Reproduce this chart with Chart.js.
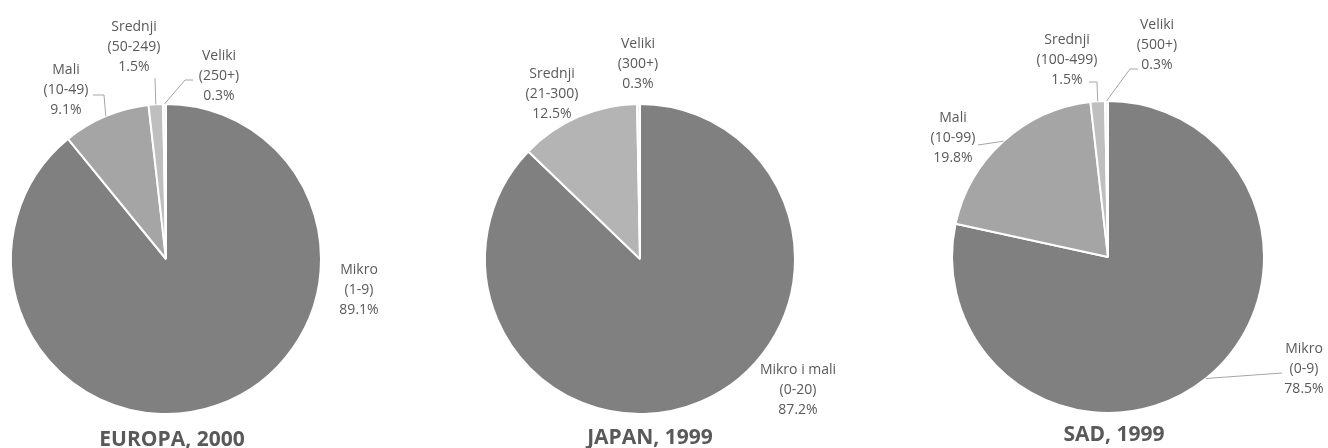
<!DOCTYPE html>
<html>
<head>
<meta charset="utf-8">
<script src="https://cdn.jsdelivr.net/npm/chart.js@4/dist/chart.umd.min.js"></script>
<style>
  html, body { margin: 0; padding: 0; background: #ffffff; }
  #wrap { position: relative; width: 1328px; height: 448px; overflow: hidden; }
  #wrap canvas { position: absolute; left: 0; top: 0; }
</style>
</head>
<body>
<div id="wrap">
  <canvas id="c0" width="1328" height="448"></canvas>
  <canvas id="c1" width="1328" height="448"></canvas>
  <canvas id="c2" width="1328" height="448"></canvas>
</div>
<script>
// ---- DATA ----
const titles = ['EUROPA, 2000', 'JAPAN, 1999', 'SAD, 1999'];

const euNames  = ['Mikro', 'Mali', 'Srednji', 'Veliki'];
const euRanges = ['(1-9)', '(10-49)', '(50-249)', '(250+)'];
const euValues = [89.1, 9.1, 1.5, 0.3];

const jpNames  = ['Mikro i mali', 'Srednji', 'Veliki'];
const jpRanges = ['(0-20)', '(21-300)', '(300+)'];
const jpValues = [87.2, 12.5, 0.3];

const usNames  = ['Mikro', 'Mali', 'Srednji', 'Veliki'];
const usRanges = ['(0-9)', '(10-99)', '(100-499)', '(500+)'];
const usValues = [78.5, 19.8, 1.5, 0.3];

// ---- LAYOUT / STYLE ----
const W = 1328, H = 448;
const TEXT = '#595959';
const LEADER = '#a6a6a6';
const layouts = [
  { cx: 166, cy: 259, r: 155, title: [172, 446],
    colors: ['#808080', '#a5a5a5', '#bfbfbf', '#f2f2f2'],
    labels: [[193, 31], [-100, -169], [-32, -212], [53, -183]],
    leaders: [null, [[-73, -164], [-62, -164]], [[-11, -181]], [[27, -179], [19, -179]]] },
  { cx: 640, cy: 259, r: 155, title: [650, 444],
    colors: ['#808080', '#b4b4b4', '#f2f2f2'],
    labels: [[158, 131], [-88, -165], [-2, -194.5]],
    leaders: [null, null, null] },
  { cx: 1108, cy: 257, r: 156, title: [1114, 441],
    colors: ['#808080', '#a5a5a5', '#bfbfbf', '#f2f2f2'],
    labels: [[196, 112], [-155, -119], [-41, -197], [49, -212]],
    leaders: [[[174, 116]], [[-130, -112]], [[-19, -175], [-11, -175]], [[30, -188], [22, -188]]] }
];
const sets = [
  { names: euNames, ranges: euRanges, values: euValues },
  { names: jpNames, ranges: jpRanges, values: jpValues },
  { names: usNames, ranges: usRanges, values: usValues }
];

const labelPlugin = {
  id: 'pieLabels',
  afterDraw(chart, args, opts) {
    const ctx = chart.ctx;
    const L = opts.layout, S = opts.set;
    const meta = chart.getDatasetMeta(0);
    ctx.save();
    meta.data.forEach((arc, i) => {
      const p = arc.getProps(['x', 'y', 'startAngle', 'endAngle', 'outerRadius'], true);
      const mid = (p.startAngle + p.endAngle) / 2;
      const ex = p.x + Math.cos(mid) * p.outerRadius;
      const ey = p.y + Math.sin(mid) * p.outerRadius;
      const ld = L.leaders[i];
      if (ld) {
        ctx.beginPath();
        ctx.strokeStyle = LEADER;
        ctx.lineWidth = 1;
        ctx.moveTo(p.x + ld[0][0], p.y + ld[0][1]);
        for (let k = 1; k < ld.length; k++) ctx.lineTo(p.x + ld[k][0], p.y + ld[k][1]);
        ctx.lineTo(ex, ey);
        ctx.stroke();
      }
      const lx = p.x + L.labels[i][0], ly = p.y + L.labels[i][1];
      ctx.fillStyle = TEXT;
      ctx.font = '14px "Open Sans", sans-serif';
      ctx.textAlign = 'center';
      ctx.textBaseline = 'middle';
      const val = S.values[i].toFixed(1) + '%';
      ctx.fillText(S.names[i], lx, ly - 20);
      ctx.fillText(S.ranges[i], lx, ly);
      ctx.fillText(val, lx, ly + 20);
    });
    ctx.font = 'bold 21px "Open Sans", sans-serif';
    ctx.fillStyle = TEXT;
    ctx.textAlign = 'center';
    ctx.textBaseline = 'alphabetic';
    ctx.fillText(opts.title, L.title[0], L.title[1]);
    ctx.restore();
  }
};

layouts.forEach((L, idx) => {
  const S = sets[idx];
  const pad = {
    left: L.cx - L.r - 1,
    top: L.cy - L.r - 1,
    right: W - (L.cx + L.r + 1),
    bottom: H - (L.cy + L.r + 1)
  };
  new Chart(document.getElementById('c' + idx), {
    type: 'pie',
    data: {
      labels: S.names,
      datasets: [{
        data: S.values,
        backgroundColor: L.colors,
        borderColor: '#ffffff',
        borderWidth: 2
      }]
    },
    options: {
      responsive: false,
      animation: false,
      layout: { padding: pad },
      events: [],
      plugins: {
        legend: { display: false },
        tooltip: { enabled: false },
        title: { display: false },
        pieLabels: { layout: L, set: S, title: titles[idx] }
      }
    },
    plugins: [labelPlugin]
  });
});
</script>
</body>
</html>
